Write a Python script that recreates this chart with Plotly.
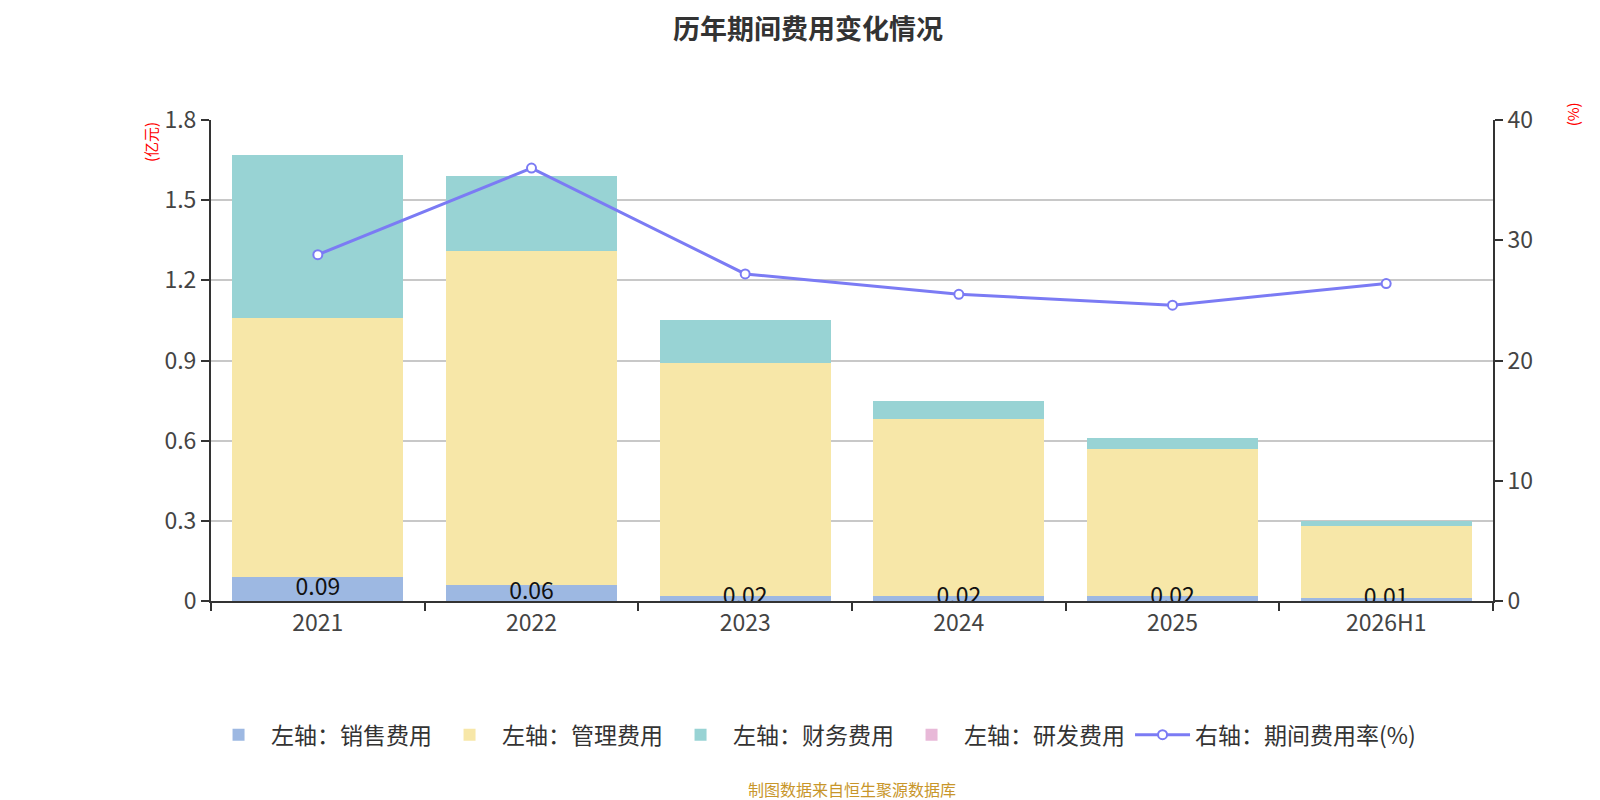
import plotly.graph_objects as go

# 年度カテゴリと各費用 (億元)
years = ["2021", "2022", "2023", "2024", "2025", "2026H1"]
sales_cost = [0.09, 0.06, 0.02, 0.02, 0.02, 0.01]
admin_cost = [0.97, 1.25, 0.87, 0.66, 0.55, 0.27]
finance_cost = [0.61, 0.28, 0.16, 0.07, 0.04, 0.02]
rd_cost = [0, 0, 0, 0, 0, 0]
expense_rate = [28.8, 36.0, 27.2, 25.5, 24.6, 26.4]

FONT = "Noto Sans CJK SC"

fig = go.Figure()

bar_series = [
    ("左轴：销售费用", sales_cost, "#9db8e2"),
    ("左轴：管理费用", admin_cost, "#f7e7a8"),
    ("左轴：财务费用", finance_cost, "#98d3d4"),
    ("左轴：研发费用", rd_cost, "#e8b9d8"),
]
for name, vals, color in bar_series:
    fig.add_trace(
        go.Bar(
            x=years,
            y=vals,
            name=name,
            marker={"color": color, "line": {"width": 0}},
            hoverinfo="y+name",
        )
    )

# 销售费用のラベル (棒の中央)
fig.add_trace(
    go.Scatter(
        x=years,
        y=[v / 2 for v in sales_cost],
        text=[f"{v:.2f}" for v in sales_cost],
        mode="text",
        textfont={"size": 23, "color": "#111", "family": FONT},
        showlegend=False,
        hoverinfo="skip",
        cliponaxis=True,
    )
)

fig.add_trace(
    go.Scatter(
        x=years,
        y=expense_rate,
        name="右轴：期间费用率(%)",
        yaxis="y2",
        mode="lines+markers",
        line={"color": "#7b7bf4", "width": 3},
        marker={"size": 9, "color": "white", "line": {"color": "#7b7bf4", "width": 2}},
    )
)

axis_common = {
    "showline": True,
    "linecolor": "#333",
    "linewidth": 2,
    "ticks": "outside",
    "ticklen": 8,
    "tickcolor": "#333",
    "tickwidth": 2,
    "tickfont": {"size": 23, "color": "#444"},
}

fig.update_layout(
    width=1600,
    height=800,
    barmode="stack",
    bargap=0.2,
    plot_bgcolor="white",
    paper_bgcolor="white",
    font={"family": FONT, "color": "#333"},
    margin={"l": 203, "r": 115, "t": 112, "b": 207},
    title={
        "text": "<b>历年期间费用变化情况</b>",
        "x": 0.5,
        "xanchor": "center",
        "y": 0.973,
        "yanchor": "middle",
        "font": {"size": 27, "color": "#333", "family": FONT},
    },
    xaxis={**axis_common, "tickson": "boundaries", "showgrid": False},
    yaxis={
        **axis_common,
        "range": [0, 1.8],
        "dtick": 0.3,
        "gridcolor": "#c8c8c8",
        "gridwidth": 1.5,
        "zeroline": False,
    },
    yaxis2={
        **axis_common,
        "range": [0, 40],
        "dtick": 10,
        "overlaying": "y",
        "side": "right",
        "showgrid": False,
        "zeroline": False,
    },
    legend={
        "orientation": "h",
        "x": 0.47,
        "xanchor": "center",
        "y": -0.278,
        "yanchor": "middle",
        "font": {"size": 23, "color": "#333"},
        "itemwidth": 55,
        "traceorder": "normal",
    },
    annotations=[
        {
            "text": "(亿元)",
            "xref": "paper",
            "yref": "paper",
            "x": -0.0476,
            "y": 1.0,
            "xanchor": "center",
            "yanchor": "top",
            "showarrow": False,
            "textangle": -90,
            "font": {"size": 15, "color": "red"},
        },
        {
            "text": "(%)",
            "xref": "paper",
            "yref": "paper",
            "x": 1.062,
            "y": 1.042,
            "xanchor": "center",
            "yanchor": "top",
            "showarrow": False,
            "textangle": -90,
            "font": {"size": 15, "color": "red"},
        },
        {
            "text": "制图数据来自恒生聚源数据库",
            "xref": "paper",
            "yref": "paper",
            "x": 0.5,
            "y": -0.39,
            "xanchor": "center",
            "yanchor": "middle",
            "showarrow": False,
            "font": {"size": 16, "color": "#c8962a"},
        },
    ],
)

fig.write_html("out.html")
